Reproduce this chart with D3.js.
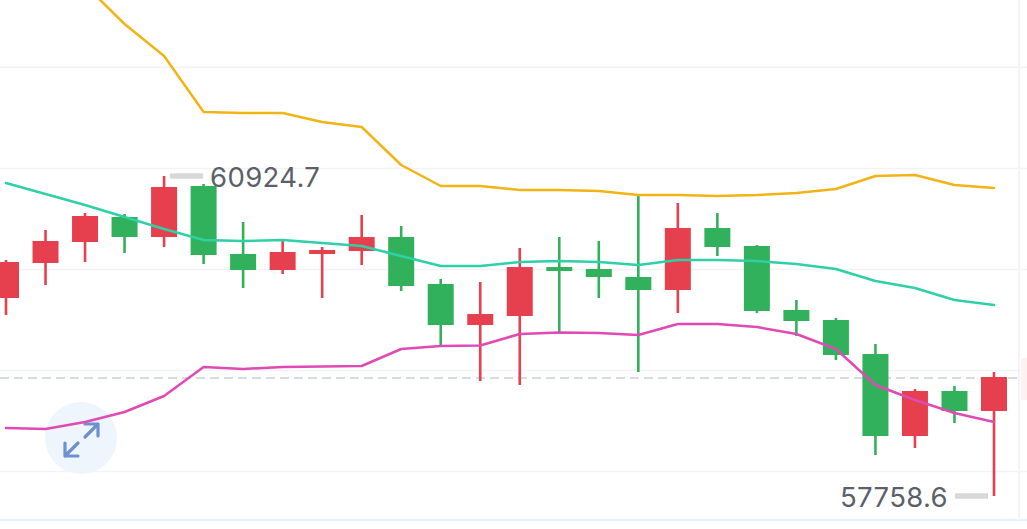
<!DOCTYPE html>
<html>
<head>
<meta charset="utf-8">
<script src="https://cdn.jsdelivr.net/npm/d3@7/dist/d3.min.js"></script>
<style>
html,body{margin:0;padding:0;background:#fff;overflow:hidden}
svg{display:block}
text{font-family:"Inter","Roboto",sans-serif}
</style>
</head>
<body>
<svg id="chart" width="1027" height="529"></svg>
<script>
// Session candles, oldest first
const open  = [59717.6,60064,60271.7,60519,60321,60825.7,60153,59994.6,60153,60182.6,60321,59856,59450.4,59539.5,60024,60004.5,59925.4,59796.7,60410,60232,59599,59500,59163.5,58352,58797.4,58599.6];
const close = [60073.8,60281.5,60529,60321,60815.8,60143,59994.6,60172.7,60192.5,60321,59836,59450.4,59559,60024,59984.7,59925.4,59796.7,60410,60222,59589,59490,59153.6,58352,58797.4,58599.6,58936];
const high  = [60093.6,60390.4,60558.6,60548.7,60924.7,60845.5,60469.5,60301,60222,60538.8,60430,59905.6,59876,60212,60321,60281.5,60746.6,60657.5,60558.6,60242,59697.8,59519.7,59262.5,58817,58847,58985.4];
const low   = [59549.4,59846,60073.8,60162.8,60222,60054,59816.5,59955,59717.6,60044,59787,59242.7,58896.4,58857,59371.3,59717.6,58985.4,59569,60133,59569,59341.6,59104,58164,58233.5,58481,57758.6];

// Band overlays sampled at each candle (null where the band is not plotted)
const bandUpper = [null,null,62814,62428.5,62112,61558,61548,61548,61459,61409.5,61033.5,60825.7,60825.7,60786,60786,60776,60736.7,60736.7,60726.8,60736.7,60756.5,60796,60924.7,60934.5,60835.6,60806];
const bandMiddle = [60855.4,60746.6,60637.7,60519,60400.3,60291.4,60281.5,60291.4,60261.8,60232,60133,60034,60034,60073.8,60083.7,60073.8,60044,60093.6,60093.6,60083.7,60054,60004.5,59885.8,59816.5,59697.8,59648.3];
const bandLower = [58431.4,58421.5,58490.7,58589.7,58748,59035,59015,59035,59040,59044.8,59213,59242.7,59247.6,59361.4,59376,59371.3,59351.5,59460.3,59460.3,59430.7,59361.4,59213,58857,58708.4,58579.8,58490.7];

const gridPrices = [58000,59000,60000,61000,62000];
const lastPrice = 58926;
const highLabel = "60924.7";
const lowLabel = "57758.6";
const highIndex = 4;
const lowIndex = 25;

const colors = {
  up: "#e6404f", down: "#31b15c",
  upper: "#f2b414", middle: "#2ed0a8", lower: "#e04ab4",
  grid: "#f1f3f7", text: "#5a5f69", tick: "#d8d8d8", dash: "#c8d0d8",
  button: "#eef5fd", arrows: "#6c90d2"
};

const svg = d3.select("#chart");
const x = d3.scaleLinear().domain([0, open.length - 1]).range([6, 994]);
const y = d3.scaleLinear().domain([57758.6, 60924.7]).range([496, 176]);
const bodyWidth = 26;

// Horizontal grid, frame lines and the clipped price-tag strip at the right edge
svg.append("g").selectAll("line").data(gridPrices).join("line")
  .attr("x1", 0).attr("x2", 1027)
  .attr("y1", d => y(d)).attr("y2", d => y(d))
  .attr("stroke", colors.grid).attr("stroke-width", 1.5);
svg.append("line").attr("x1", 0).attr("x2", 1027).attr("y1", 520).attr("y2", 520)
  .attr("stroke", "#eef1f5").attr("stroke-width", 2.5);
svg.append("line").attr("x1", 1019).attr("x2", 1019).attr("y1", 0).attr("y2", 520)
  .attr("stroke", "#f2f4f8").attr("stroke-width", 2);
svg.append("rect").attr("x", 1021).attr("y", 358).attr("width", 6).attr("height", 42)
  .attr("fill", "#fdf1f1");

// Latest price guide
svg.append("line").attr("x1", 0).attr("x2", 1019)
  .attr("y1", y(lastPrice)).attr("y2", y(lastPrice))
  .attr("stroke", colors.dash).attr("stroke-width", 1.5).attr("stroke-dasharray", "9 5");

// Expand button
const btn = svg.append("g").attr("transform", "translate(81,438)");
btn.append("circle").attr("r", 36).attr("fill", colors.button);

// Candles
const candles = svg.append("g").selectAll("g").data(open.map((_, i) => i)).join("g")
  .attr("fill", i => close[i] >= open[i] ? colors.up : colors.down)
  .attr("stroke", i => close[i] >= open[i] ? colors.up : colors.down);
candles.append("line")
  .attr("x1", i => x(i)).attr("x2", i => x(i))
  .attr("y1", i => y(high[i])).attr("y2", i => y(low[i]))
  .attr("stroke-width", 2.6);
candles.append("rect")
  .attr("x", i => x(i) - bodyWidth / 2).attr("width", bodyWidth)
  .attr("y", i => y(Math.max(open[i], close[i])))
  .attr("height", i => Math.max(3, Math.abs(y(open[i]) - y(close[i]))))
  .attr("stroke", "none");

// Band overlays
const line = d3.line()
  .defined(d => d !== null)
  .x((d, i) => x(i)).y(d => y(d));
[[bandUpper, colors.upper], [bandMiddle, colors.middle], [bandLower, colors.lower]].forEach(([vals, c]) => {
  svg.append("path").attr("d", line(vals)).attr("fill", "none")
    .attr("stroke", c).attr("stroke-width", 2.5)
    .attr("stroke-linejoin", "round").attr("stroke-linecap", "round");
});

// Expand button arrows
btn.append("path")
  .attr("d", "M4,-1 L17,-14 M4,-14 H17 V-2 M-3,5 L-16,18 M-16,5 V18 H-3")
  .attr("fill", "none").attr("stroke", colors.arrows).attr("stroke-width", 3.2)
  .attr("stroke-linecap", "round").attr("stroke-linejoin", "round");

// Extreme price markers
svg.append("line").attr("x1", x(highIndex) + 6).attr("x2", x(highIndex) + 39)
  .attr("y1", y(high[highIndex])).attr("y2", y(high[highIndex]))
  .attr("stroke", colors.tick).attr("stroke-width", 5.5);
svg.append("text").attr("x", x(highIndex) + 46).attr("y", y(high[highIndex]) + 11)
  .attr("font-size", 27.5).attr("letter-spacing", 0.35).attr("fill", colors.text).text(highLabel);
svg.append("line").attr("x1", x(lowIndex) - 39).attr("x2", x(lowIndex) - 6)
  .attr("y1", y(low[lowIndex])).attr("y2", y(low[lowIndex]))
  .attr("stroke", colors.tick).attr("stroke-width", 5.5);
svg.append("text").attr("x", x(lowIndex) - 46).attr("y", y(low[lowIndex]) + 11)
  .attr("text-anchor", "end").attr("font-size", 27.5).attr("letter-spacing", 0.35).attr("fill", colors.text).text(lowLabel);
</script>
</body>
</html>
